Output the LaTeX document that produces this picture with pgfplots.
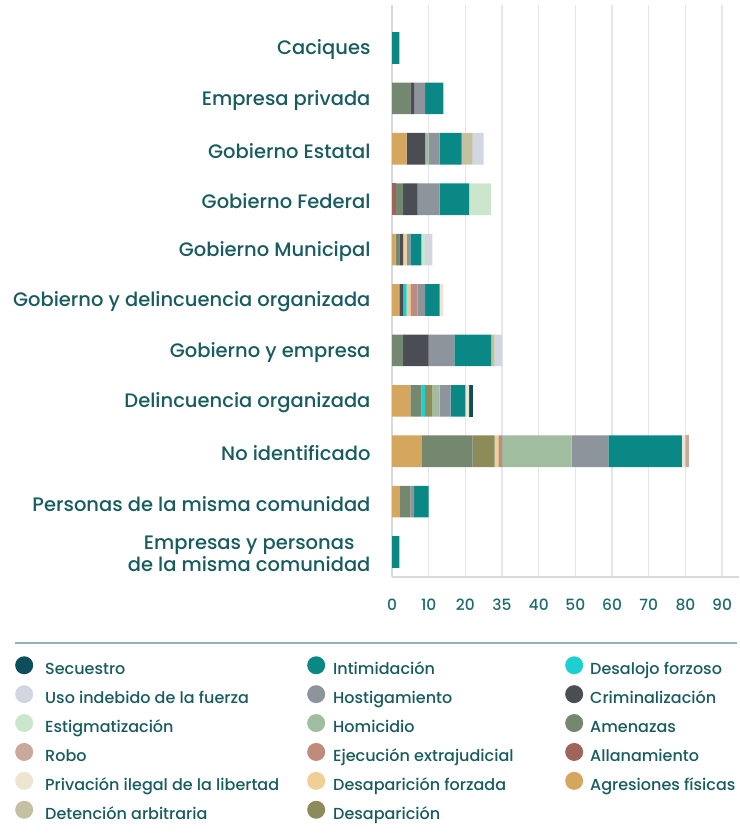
\documentclass[border=0pt]{standalone}
\usepackage{fontspec}
\IfFontExistsTF{Poppins Medium}{\setmainfont{Poppins Medium}}{\setmainfont{Poppins}}
\usepackage{pgfplots}
\usepackage{pgfplotstable}
\pgfplotsset{compat=1.18}

\definecolor{cagr}{HTML}{D4A65E}
\definecolor{callan}{HTML}{A0655A}
\definecolor{camen}{HTML}{74876F}
\definecolor{ccrim}{HTML}{4A4E54}
\definecolor{cdesal}{HTML}{1FCFD0}
\definecolor{cdesap}{HTML}{8E8B5B}
\definecolor{cdesapf}{HTML}{EFCF96}
\definecolor{cejec}{HTML}{C08A7C}
\definecolor{chomi}{HTML}{A0BD9F}
\definecolor{chost}{HTML}{8E949C}
\definecolor{cinti}{HTML}{0A8886}
\definecolor{cdet}{HTML}{C4C1A3}
\definecolor{cpriv}{HTML}{EEE4D2}
\definecolor{crobo}{HTML}{C8A99C}
\definecolor{cestig}{HTML}{CBE6CC}
\definecolor{cuso}{HTML}{D1D6E1}
\definecolor{csecu}{HTML}{0C4F5B}
\definecolor{txt}{HTML}{185C60}
\definecolor{tick}{HTML}{1D6B6E}
\definecolor{gridc}{HTML}{E4E6EC}
\definecolor{axc}{HTML}{D6DADF}
\definecolor{sepc}{HTML}{8FB5B5}

% y: 0 = bottom category, 10 = top category
\pgfplotstableread{
y agr allan amen crim desal desap desapf ejec homi host inti det priv robo estig uso secu
0  0 0 0  0 0 0 0 0  0  0  2 0 0 0 0 0 0
1  2 0 3  0 0 0 0 0  0  1  4 0 0 0 0 0 0
2  8 0 14 0 0 6 1 1  19 10 20 0 1 1 0 0 0
3  5 0 3  0 1 2 0 0  2  3  4 0 1 0 0 0 1
4  0 0 3  7 0 0 0 0  0  7  10 1 0 0 0 2 0
5  2 0 0  1 1 0 1 2  0  2  4 0 1 0 0 0 0
6  1 0 1  1 0 0 1 0  0  1  3 0 0 0 1 2 0
7  0 1 2  4 0 0 0 0  0  6  8 0 0 0 6 0 0
8  4 0 0  5 0 0 0 0  1  3  6 3 0 0 0 3 0
9  0 0 5  1 0 0 0 0  0  3  5 0 0 0 0 0 0
10 0 0 0  0 0 0 0 0  0  0  2 0 0 0 0 0 0
}\datatable

\newcommand\la[1]{\makebox[274pt][l]{\hspace*{12pt}#1}}
\newcommand\lb[1]{\makebox[240pt][l]{\hspace*{8pt}#1}}
\newcommand\lc[1]{\makebox[150pt][l]{\hspace*{7pt}#1}}

\begin{document}
\begin{tikzpicture}
\begin{axis}[
  at={(392pt,-577pt)}, anchor=south west,
  scale only axis, width=347pt, height=572pt,
  xbar stacked, bar width=31.6pt,
  xmin=0, xmax=94.6, ymin=-0.496, ymax=10.853,
  axis x line*=bottom, axis y line*=left,
  axis line style={draw=axc, line width=1.5pt},
  major tick length=0pt,
  xtick={0,10,...,90},
  xticklabels={0,10,20,35,40,50,60,70,80,90},
  xticklabel style={font=\fontsize{15.5}{18}\selectfont, text=tick, yshift=-18pt},
  ytick={0,...,10},
  yticklabels={{Empresas y personas\\de la misma comunidad},
    Personas de la misma comunidad, No identificado, Delincuencia organizada,
    Gobierno y empresa, Gobierno y delincuencia organizada, Gobierno Municipal,
    Gobierno Federal, Gobierno Estatal, Empresa privada, Caciques},
  yticklabel style={font=\fontsize{19.5}{22}\selectfont, text=txt, align=center,
    xshift=-18pt, yshift=-2pt},
  xmajorgrids, grid style={draw=gridc, line width=1.3pt},
  every axis plot/.append style={draw=none},
  legend style={at={(-1.0865,-0.1382)}, anchor=north west, draw=none, fill=none,
    inner sep=0pt, column sep=0pt, row sep=6.4pt,
    font=\fontsize{16}{19}\selectfont, text=txt,
    nodes={inner sep=0pt, text height=12pt, text depth=4pt}},
  legend cell align=left,
  legend columns=6, transpose legend, reverse legend,
  legend image code/.code={\path[#1,draw=none] (9pt,5.5pt) circle (9pt);},
]
\addplot[fill=cagr] table[x=agr,y=y] {\datatable};
\addplot[fill=callan] table[x=allan,y=y] {\datatable};
\addplot[fill=camen] table[x=amen,y=y] {\datatable};
\addplot[fill=ccrim] table[x=crim,y=y] {\datatable};
\addplot[fill=cdesal] table[x=desal,y=y] {\datatable};
\addplot[fill=cdesap] table[x=desap,y=y] {\datatable};
\addplot[fill=cdesapf] table[x=desapf,y=y] {\datatable};
\addplot[fill=cejec] table[x=ejec,y=y] {\datatable};
\addplot[fill=chomi] table[x=homi,y=y] {\datatable};
\addplot[fill=chost] table[x=host,y=y] {\datatable};
\addplot[fill=cinti] table[x=inti,y=y] {\datatable};
\addplot[fill=cdet] table[x=det,y=y] {\datatable};
\addplot[fill=cpriv] table[x=priv,y=y] {\datatable};
\addplot[fill=crobo] table[x=robo,y=y] {\datatable};
\addplot[fill=cestig] table[x=estig,y=y] {\datatable};
\addplot[fill=cuso] table[x=uso,y=y] {\datatable};
\addplot[fill=csecu] table[x=secu,y=y] {\datatable};
\legend{\lc{Agresiones físicas},\lc{Allanamiento},\lc{Amenazas},\lc{Criminalización},\lc{Desalojo forzoso},
  \lb{Desaparición},\lb{Desaparición forzada},\lb{Ejecución extrajudicial},\lb{Homicidio},\lb{Hostigamiento},\lb{Intimidación},
  \la{Detención arbitraria},\la{Privación ilegal de la libertad},\la{Robo},\la{Estigmatización},\la{Uso indebido de la fuerza},\la{Secuestro}}
\end{axis}
\draw[sepc, line width=2pt] (15pt,-643pt) -- (737pt,-643pt);
\pgfresetboundingbox
\path (0,0) rectangle (739pt,-835pt);
\end{tikzpicture}
\end{document}
